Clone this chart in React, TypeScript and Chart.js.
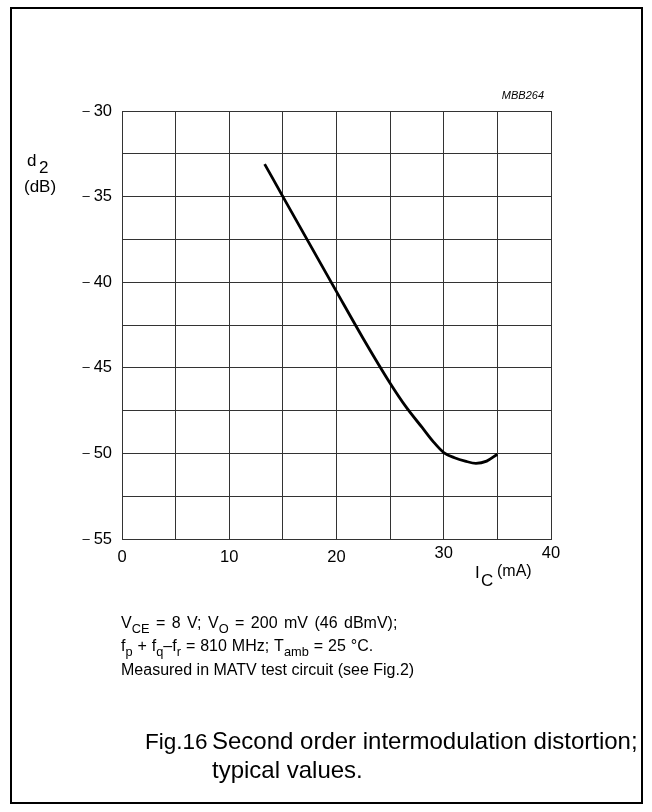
import React, { useEffect, useRef } from "react";
import { Chart, registerables } from "chart.js";

Chart.register(...registerables);

const currentMA = [13.3, 15, 20, 22.5, 25, 26.5, 28, 29, 30, 31, 32, 33, 34, 35];
const d2dB = [-33.1, -35, -40.55, -43.3, -45.9, -47.3, -48.5, -49.3, -49.95, -50.25, -50.45, -50.58, -50.45, -50.05];
const xTickLabels = ["0", "10", "20", "30", "40"];
const yTickValues = [-30, -35, -40, -45, -50, -55];

const FONT = "'Liberation Sans', Arial, Helvetica, sans-serif";

type Part = [string, boolean?];

function drawRich(ctx: CanvasRenderingContext2D, x: number, y: number, parts: Part[], fs: number, ws = 0) {
  let cx = x;
  ctx.textAlign = "left";
  ctx.textBaseline = "alphabetic";
  for (const [t, sub] of parts) {
    const size = sub ? fs * 0.8 : fs;
    ctx.font = `${size}px ${FONT}`;
    const pieces = t.split(" ");
    pieces.forEach((p, i) => {
      if (p) {
        ctx.fillText(p, cx, sub ? y + fs * 0.3 : y);
        cx += ctx.measureText(p).width;
      }
      if (i < pieces.length - 1) cx += ctx.measureText(" ").width + ws;
    });
  }
}

const decorPlugin = {
  id: "decor",
  afterDraw(chart: any) {
    const ctx: CanvasRenderingContext2D = chart.ctx;
    const xs = chart.scales.x;
    const ys = chart.scales.y;
    ctx.save();
    ctx.fillStyle = "#000";
    ctx.strokeStyle = "#000";
    // outer frame
    ctx.lineWidth = 2;
    ctx.strokeRect(11, 8, 631, 795);

    // y tick labels
    ctx.textBaseline = "middle";
    yTickValues.forEach((v) => {
      const py = ys.getPixelForValue(v);
      const num = String(Math.abs(v));
      ctx.font = `16.5px ${FONT}`;
      ctx.textAlign = "right";
      ctx.fillText(num, 112, py);
      const w = ctx.measureText(num).width;
      ctx.font = `13px ${FONT}`;
      ctx.fillText("\u2013", 112 - w - 4, py);
    });
    // x tick labels
    ctx.font = `16.5px ${FONT}`;
    ctx.textAlign = "center";
    xTickLabels.forEach((lab) => {
      const v = Number(lab);
      const yy = v >= 30 ? 553 : 557;
      ctx.fillText(lab, xs.getPixelForValue(v), yy);
    });

    // y title
    ctx.textAlign = "left";
    ctx.font = `17px ${FONT}`;
    ctx.fillText("d", 27, 161);
    ctx.fillText("2", 39, 168);
    ctx.fillText("(dB)", 24, 187);

    // x title
    ctx.fillText("I", 475, 573);
    ctx.fillText("C", 481, 581);
    ctx.font = `16px ${FONT}`;
    ctx.fillText("(mA)", 497, 572);

    // id
    ctx.font = `italic 11px ${FONT}`;
    ctx.textAlign = "right";
    ctx.fillText("MBB264", 544, 96);

    // notes
    const fs = 16;
    drawRich(ctx, 121, 628, [["V"], ["CE", true], [" = 8 V; V"], ["O", true], [" = 200 mV (46 dBmV);"]], fs, 2);
    drawRich(ctx, 121, 651, [["f"], ["p", true], [" + f"], ["q", true], ["\u2013f"], ["r", true], [" = 810 MHz; T"], ["amb", true], [" = 25 \u00B0C."]], fs, 0.5);
    drawRich(ctx, 121, 675, [["Measured in MATV test circuit (see Fig.2)"]], fs, 0);

    // caption
    ctx.textAlign = "left";
    ctx.textBaseline = "alphabetic";
    ctx.font = `22.5px ${FONT}`;
    ctx.fillText("Fig.16", 145, 749);
    ctx.font = `24px ${FONT}`;
    ctx.fillText("Second order intermodulation distortion;", 212, 749);
    ctx.fillText("typical values.", 212, 778);
    ctx.restore();
  },
};

export default function App() {
  const ref = useRef<HTMLCanvasElement>(null);
  useEffect(() => {
    document.body.style.margin = "0";
    const canvas = ref.current!;
    const chart = new Chart(canvas, {
      type: "line",
      data: {
        datasets: [
          {
            data: currentMA.map((x, i) => ({ x, y: d2dB[i] })),
            borderColor: "#000",
            borderWidth: 2.8,
            pointRadius: 0,
            cubicInterpolationMode: "monotone",
            fill: false,
          },
        ],
      },
      options: {
        animation: false,
        responsive: false,
        devicePixelRatio: 1,
        events: [],
        layout: { padding: { left: 122, top: 111, right: 101, bottom: 273 } },
        plugins: { legend: { display: false }, tooltip: { enabled: false } },
        scales: {
          x: {
            type: "linear",
            min: 0,
            max: 40,
            ticks: { display: false, stepSize: 5 },
            grid: { color: "#333", lineWidth: 1, drawTicks: false },
            border: { display: true, color: "#333", width: 1 },
          },
          y: {
            type: "linear",
            min: -55,
            max: -30,
            ticks: { display: false, stepSize: 2.5 },
            grid: { color: "#333", lineWidth: 1, drawTicks: false },
            border: { display: true, color: "#333", width: 1 },
          },
        },
      },
      plugins: [decorPlugin],
    });
    return () => chart.destroy();
  }, []);
  return (
    <div style={{ width: 652, height: 812, background: "#fff" }}>
      <canvas ref={ref} width={652} height={812} style={{ display: "block" }} />
    </div>
  );
}
